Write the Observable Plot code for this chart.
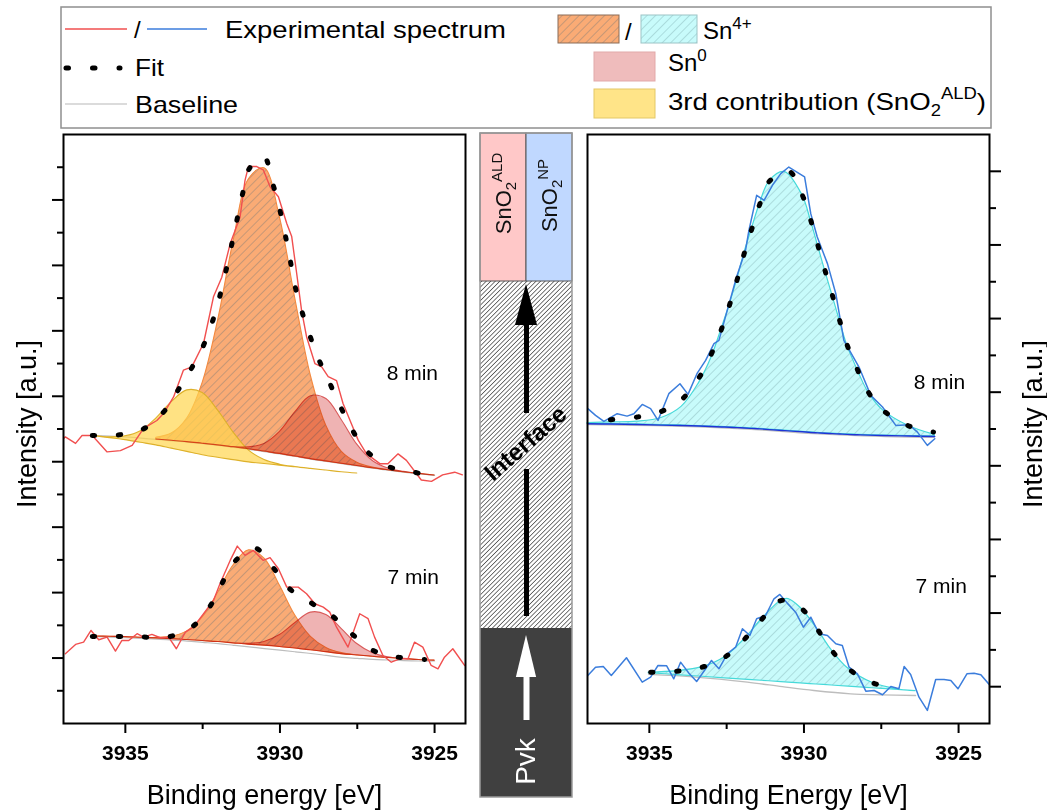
<!DOCTYPE html>
<html><head><meta charset="utf-8">
<script src="https://cdn.jsdelivr.net/npm/d3@7"></script>
<script src="https://cdn.jsdelivr.net/npm/@observablehq/plot@0.6"></script>
<style>
body{margin:0;background:#fff;}
#wrap{position:relative;width:1047px;height:812px;overflow:hidden;background:#fff;}
#wrap > svg{position:absolute;}
</style></head><body>
<svg width="0" height="0" style="position:absolute">
<defs>
<pattern id="hatchOrange" patternUnits="userSpaceOnUse" width="6" height="6" patternTransform="rotate(45)">
<rect width="6" height="6" fill="#faab75"/><line x1="0" y1="0" x2="0" y2="6" stroke="#9a8676" stroke-width="1.1"/>
</pattern>
<pattern id="hatchCyan" patternUnits="userSpaceOnUse" width="6" height="6" patternTransform="rotate(45)">
<rect width="6" height="6" fill="#c8fbfb"/><line x1="0" y1="0" x2="0" y2="6" stroke="#94c2c4" stroke-width="1.1"/>
</pattern>
<pattern id="hatchMid" patternUnits="userSpaceOnUse" width="3.2" height="3.2" patternTransform="rotate(45)">
<rect width="3.2" height="3.2" fill="#ffffff"/><line x1="0" y1="0" x2="0" y2="3.2" stroke="#2e2e2e" stroke-width="1.3"/>
</pattern>
</defs></svg>
<div id="wrap"></div>
<script>
const FONT = '"Liberation Sans", Arial, Helvetica, sans-serif';

// ---------- data ----------
const grid = [3936,3935.5,3935,3934.5,3934,3933.5,3933,3932.5,3932,3931.5,3931,3930.5,3930,3929.5,3929,3928.5,3928,3927.5,3927,3926.5,3926,3925.5,3925];

// left panel (SnO2 ALD), 8 min
const base8 = [4.40,4.39,4.38,4.36,4.34,4.32,4.30,4.275,4.25,4.22,4.19,4.155,4.12,4.08,4.04,4.005,3.97,3.935,3.90,3.87,3.84,3.815,3.79];
const sn4_8 = [0,0,0,0.005,0.027,0.11,0.36,0.93,1.91,3.15,4.13,4.33,3.61,2.40,1.27,0.54,0.18,0.05,0.01,0,0,0,0];
const sn0_8 = [0,0,0,0,0,0,0,0,0,0.005,0.029,0.117,0.336,0.678,0.96,0.953,0.664,0.325,0.111,0.027,0.005,0,0];
const ald8lo = [4.39,4.36,4.33,4.29,4.25,4.20,4.15,4.10,4.06,4.025,3.99,3.965,3.94,3.915,3.89,3.865,3.84,3.82,3.80,3.78,3.76,3.74,3.72];
const ald8 = [0.003,0.014,0.058,0.176,0.41,0.71,0.94,0.95,0.72,0.42,0.18,0.06,0.015,0.003,0,0,0,0,0,0,0,0,0];
const expL8 = [[3937.0,4.35],[3936.94,4.38],[3936.61,4.28],[3936.40,4.40],[3936.07,4.40],[3935.59,4.15],[3935.16,4.17],[3934.78,4.25],[3934.41,4.51],[3933.98,4.63],[3933.76,4.74],[3933.44,4.99],[3933.12,5.40],[3932.85,5.45],[3932.47,5.81],[3932.15,6.52],[3931.88,6.82],[3931.61,7.33],[3931.29,7.74],[3931.13,8.30],[3931.02,8.51],[3930.75,8.51],[3930.54,8.46],[3930.32,8.20],[3930.05,8.05],[3929.78,7.64],[3929.62,7.44],[3929.46,6.88],[3929.30,6.31],[3929.14,5.91],[3928.87,5.50],[3928.65,5.45],[3928.44,5.30],[3928.17,5.24],[3927.96,4.89],[3927.69,4.58],[3927.47,4.33],[3927.20,4.12],[3926.77,3.97],[3926.51,3.97],[3926.18,4.12],[3925.91,4.02],[3925.59,3.82],[3925.43,3.72],[3925.10,3.70],[3924.74,3.80],[3924.35,3.84],[3924.10,3.80]];
const fitL8 = [[3936.07,4.40],[3935.22,4.41],[3934.46,4.49],[3933.78,4.75],[3933.30,5.09],[3932.87,5.42],[3932.47,5.78],[3932.17,6.16],[3931.94,6.54],[3931.74,6.93],[3931.56,7.32],[3931.38,7.72],[3931.20,8.11],[3930.99,8.48],[3930.52,8.66],[3930.24,8.26],[3930.02,7.88],[3929.84,7.49],[3929.68,7.11],[3929.52,6.70],[3929.30,6.31],[3929.05,5.95],[3928.76,5.58],[3928.41,5.22],[3928.06,4.86],[3927.69,4.51],[3927.23,4.18],[3926.51,3.93],[3925.65,3.84],[3925.16,3.78]];

// left panel, 7 min
const base7 = [1.33,1.325,1.32,1.31,1.30,1.29,1.275,1.26,1.245,1.225,1.205,1.19,1.17,1.145,1.12,1.09,1.06,1.04,1.02,1.00,0.985,0.97,0.96];
const gray7 = [1.33,1.32,1.31,1.30,1.29,1.275,1.26,1.24,1.22,1.195,1.17,1.145,1.12,1.095,1.07,1.04,1.01,0.995,0.98,0.97,0.96,0.955,0.955];
const sn4_7 = [0,0,0,0.001,0.008,0.037,0.133,0.361,0.752,1.193,1.442,1.329,0.934,0.501,0.204,0.064,0.015,0.002,0,0,0,0,0];
const sn0_7 = [0,0,0,0,0,0,0,0,0,0.002,0.012,0.056,0.181,0.391,0.574,0.569,0.382,0.174,0.053,0.011,0.002,0,0];
const expL7 = [[3936.94,1.066],[3936.61,1.208],[3936.35,1.243],[3936.11,1.422],[3935.86,1.280],[3935.59,1.320],[3935.32,1.106],[3935.11,1.269],[3934.89,1.269],[3934.62,1.372],[3934.41,1.320],[3934.14,1.361],[3933.87,1.310],[3933.60,1.320],[3933.35,1.142],[3933.06,1.396],[3932.80,1.472],[3932.47,1.677],[3932.15,1.881],[3931.94,2.136],[3931.61,2.492],[3931.38,2.711],[3931.13,2.569],[3930.86,2.645],[3930.54,2.492],[3930.32,2.534],[3930.05,2.365],[3929.78,2.084],[3929.41,2.084],[3929.14,1.983],[3928.87,1.830],[3928.60,1.778],[3928.39,1.702],[3928.17,1.472],[3927.80,1.167],[3927.42,1.677],[3927.15,1.601],[3926.94,1.320],[3926.67,1.040],[3926.40,0.937],[3926.13,0.989],[3925.86,0.989],[3925.65,1.243],[3925.38,1.167],[3925.11,0.887],[3924.89,0.836],[3924.68,1.014],[3924.41,1.142],[3924.03,0.887]];
const fitL7 = [[3936.07,1.330],[3935.22,1.330],[3934.39,1.320],[3933.55,1.330],[3932.85,1.472],[3932.28,1.778],[3931.88,2.136],[3931.45,2.482],[3930.81,2.681],[3930.22,2.381],[3929.73,2.075],[3928.98,1.839],[3928.36,1.662],[3927.74,1.396],[3926.99,1.116],[3926.18,1.014],[3925.32,0.979]];

// right panel (SnO2 NP), 8 min
const expR8 = [[3936.99,4.276],[3936.74,4.185],[3936.47,4.103],[3936.04,4.208],[3935.72,4.175],[3935.50,4.208],[3935.23,4.334],[3934.96,4.276],[3934.72,4.117],[3934.37,4.480],[3934.01,4.615],[3933.75,4.470],[3933.45,4.760],[3933.18,4.932],[3932.91,5.159],[3932.75,5.204],[3932.48,5.611],[3932.18,6.064],[3931.89,6.427],[3931.78,6.698],[3931.53,7.174],[3931.29,7.106],[3931.02,7.310],[3930.75,7.469],[3930.49,7.558],[3929.98,7.423],[3929.78,6.925],[3929.57,6.607],[3929.24,6.246],[3928.97,5.838],[3928.71,5.204],[3928.22,4.841],[3927.84,4.457],[3927.46,4.298],[3927.03,4.049],[3926.60,4.058],[3926.33,3.958],[3926.01,3.777],[3925.77,3.868]];
const fitR8 = [[3936.26,4.126],[3935.39,4.162],[3934.61,4.239],[3933.96,4.398],[3933.40,4.692],[3932.99,5.023],[3932.67,5.353],[3932.40,5.693],[3932.16,6.028],[3931.94,6.372],[3931.69,6.712],[3931.43,7.052],[3931.11,7.368],[3930.49,7.500],[3930.05,7.174],[3929.78,6.834],[3929.55,6.495],[3929.32,6.155],[3929.08,5.815],[3928.84,5.466],[3928.60,5.136],[3928.27,4.806],[3927.92,4.501],[3927.44,4.253],[3926.63,4.045],[3925.81,3.958]];
const sn4R8 = [[3937.0,4.072,4.08],[3936.26,4.067,4.09],[3935.39,4.062,4.10],[3934.61,4.053,4.15],[3933.96,4.048,4.30],[3933.40,4.040,4.62],[3932.99,4.033,4.97],[3932.67,4.028,5.353],[3932.40,4.024,5.693],[3932.16,4.018,6.028],[3931.94,4.014,6.372],[3931.69,4.008,6.712],[3931.43,4.002,7.052],[3931.11,3.992,7.368],[3930.62,3.978,7.49],[3930.05,3.962,7.174],[3929.78,3.953,6.834],[3929.55,3.947,6.495],[3929.32,3.942,6.155],[3929.08,3.937,5.815],[3928.84,3.932,5.466],[3928.60,3.927,5.136],[3928.27,3.921,4.806],[3927.92,3.917,4.501],[3927.44,3.912,4.253],[3926.63,3.905,4.045],[3925.77,3.899,3.92]];
const grayR8 = [[3937,4.072],[3934.0,4.049],[3931.83,4.012],[3929.68,3.950],[3927.52,3.913],[3925.79,3.899]];

// right panel, 7 min
const expR7 = [[3936.99,0.652],[3936.74,0.765],[3936.49,0.774],[3936.23,0.652],[3935.74,0.893],[3935.23,0.561],[3934.96,0.629],[3934.72,0.788],[3934.44,0.784],[3934.21,0.607],[3933.99,0.833],[3933.72,0.683],[3933.47,0.571],[3932.99,0.856],[3932.75,0.743],[3932.48,0.947],[3932.21,1.037],[3931.99,1.287],[3931.75,1.196],[3931.53,1.423],[3931.24,1.467],[3930.97,1.694],[3930.78,1.753],[3930.54,1.635],[3930.27,1.512],[3930.02,1.308],[3929.78,1.444],[3929.51,1.219],[3929.24,1.196],[3928.97,1.083],[3928.76,1.060],[3928.54,0.765],[3928.27,0.675],[3928.00,0.439],[3927.73,0.448],[3927.46,0.390],[3927.19,0.503],[3926.93,0.471],[3926.76,0.774],[3926.55,0.666],[3926.28,0.357],[3926.01,0.177],[3925.74,0.598],[3925.47,0.598],[3925.25,0.584],[3925.02,0.471],[3924.73,0.675],[3924.50,0.683],[3924.28,0.662],[3924.01,0.530]];
const fitR7 = [[3934.96,0.697],[3934.10,0.711],[3933.29,0.765],[3932.56,0.901],[3931.94,1.137],[3931.37,1.413],[3930.73,1.671],[3930.11,1.572],[3929.59,1.295],[3929.10,0.992],[3928.56,0.743],[3927.79,0.553],[3926.95,0.462]];
const sn4R7 = [[3935.02,0.684,0.69],[3934.10,0.658,0.711],[3933.29,0.635,0.765],[3932.56,0.614,0.901],[3931.94,0.597,1.137],[3931.37,0.581,1.413],[3930.73,0.562,1.671],[3930.50,0.556,1.69],[3930.11,0.545,1.572],[3929.59,0.530,1.295],[3929.10,0.516,0.992],[3928.56,0.501,0.743],[3927.79,0.479,0.553],[3926.95,0.455,0.462],[3926.39,0.439,0.439]];
const grayR7 = [[3935.02,0.666],[3933.5,0.63],[3931.83,0.561],[3930.7,0.50],[3929.68,0.448],[3928.49,0.403],[3927.5,0.39],[3926.39,0.380]];

const xMajor = [3935, 3930, 3925];
const xMinor = [3932.5, 3927.5];
const yMajorL = [1,2,3,4,5,6,7,8], yMinorL = [0.5,1.5,2.5,3.5,4.5,5.5,6.5,7.5,8.5];
const yMajorR = [0.5,1.5,2.5,3.5,4.5,5.5,6.5,7.5], yMinorR = [1,2,3,4,5,6,7];
const timeL = [{t:"8 min", x:3926.55, y:5.245},{t:"7 min", x:3926.52, y:2.125}];
const timeR = [{t:"8 min", x:3926.45, y:4.538},{t:"7 min", x:3926.39, y:1.766}];

// schematic layers (depth units from bottom) and arrows
const layers = [
  {layer:"Pvk", x1:0, x2:2, y1:0, y2:169},
  {layer:"Interface", x1:0, x2:2, y1:169, y2:516},
  {layer:"SnO2ALD", x1:0, x2:1, y1:516, y2:664},
  {layer:"SnO2NP", x1:1, x2:2, y1:516, y2:664}
];
const blackShaft = [{y1:181, y2:328},{y1:384, y2:472}];
const blackHead = [{x:0.76, b:472, t:472},{x:1, b:472, t:513},{x:1.24, b:472, t:472}];
const whiteShaft = [{y1:77, y2:121}];
const whiteHead = [{x:0.78, b:120, t:120},{x:1, b:120, t:162},{x:1.22, b:120, t:120}];

// ---------- helpers ----------
const P = a => a.map(([x, y]) => ({x, y}));
const comp = (lo, h, from, to) => grid.map((x, i) => ({x, lo: lo[i], hi: lo[i] + (h ? h[i] : 0)})).filter(d => d.x <= from && d.x >= to);
const band = a => a.map(([x, lo, hi]) => ({x, lo, hi}));
const curve = "catmull-rom";
const RED = "#f14f4f", BLUE = "#3b7ddc", GRAYB = "#bdbdbd";
const fitStyle = {x:"x", y:"y", stroke:"black", strokeWidth:5, strokeDasharray:"2.5,23.5", strokeLinecap:"round", curve};
const styleBase = {fontFamily: FONT, background: "transparent", color: "black", overflow: "visible"};
const wrap = document.getElementById("wrap");

function axesMarks(anchorY, yMajor, yMinor, title) {
  return [
    Plot.frame({stroke:"black", strokeWidth:2}),
    Plot.axisX({ticks: xMajor, tickSize: 10, tickPadding: 12, tickFormat: d => String(d), fontWeight: "bold", fontSize: 21, strokeWidth: 2, label: null}),
    Plot.axisX({ticks: xMinor, tickSize: 6, tickFormat: () => "", strokeWidth: 2, label: null}),
    Plot.axisY({anchor: anchorY, ticks: yMajor, tickSize: 11, tickFormat: () => "", strokeWidth: 2, label: null}),
    Plot.axisY({anchor: anchorY, ticks: yMinor, tickSize: 6, tickFormat: () => "", strokeWidth: 2, label: null}),
    Plot.text([title], {frameAnchor: "bottom", textAnchor: "middle", lineAnchor: "bottom", dy: 80, fontSize: 27}),
    Plot.text(["Intensity [a.u.]"], {frameAnchor: anchorY, textAnchor: "middle", lineAnchor: "middle", rotate: -90, dx: anchorY === "left" ? -36 : 44, dy: -5, fontSize: 27})
  ];
}

// ---------- left panel ----------
const left = Plot.plot({
  width: 480, height: 682, marginLeft: 63, marginRight: 15, marginTop: 4, marginBottom: 89,
  x: {domain: [3937, 3924]}, y: {domain: [0, 9]},
  style: styleBase,
  marks: [
    Plot.line(comp(base8, null, 3936, 3925), {x:"x", y:"lo", stroke: GRAYB, strokeWidth: 1.2, curve}),
    Plot.line(comp(gray7, null, 3936, 3925), {x:"x", y:"lo", stroke: GRAYB, strokeWidth: 1.2, curve}),
    Plot.areaY(comp(base8, sn4_8, 3934, 3925), {x:"x", y1:"lo", y2:"hi", fill:"url(#hatchOrange)", stroke:"#f3893f", strokeWidth:1.1, curve}),
    Plot.areaY(comp(ald8lo, ald8, 3936, 3927.5), {x:"x", y1:"lo", y2:"hi", fill:"#ffd54e", fillOpacity:0.7, stroke:"#deb12a", strokeWidth:1.1, curve}),
    Plot.areaY(comp(base8, sn0_8, 3934, 3925), {x:"x", y1:"lo", y2:"hi", fill:"#efb3b3", mixBlendMode:"multiply", stroke:"#d95a5a", strokeWidth:1.1, curve}),
    Plot.areaY(comp(base7, sn4_7, 3936, 3925), {x:"x", y1:"lo", y2:"hi", fill:"url(#hatchOrange)", stroke:"#f3893f", strokeWidth:1.1, curve}),
    Plot.areaY(comp(base7, sn0_7, 3936, 3925), {x:"x", y1:"lo", y2:"hi", fill:"#efb3b3", mixBlendMode:"multiply", stroke:"#d95a5a", strokeWidth:1.1, curve}),
    Plot.line(P(expL8), {x:"x", y:"y", stroke: RED, strokeWidth: 1.4, clip: true}),
    Plot.line(P(expL7), {x:"x", y:"y", stroke: RED, strokeWidth: 1.4, clip: true}),
    Plot.line(P(fitL8), fitStyle),
    Plot.line(P(fitL7), fitStyle),
    Plot.text(timeL, {x:"x", y:"y", text:"t", textAnchor:"start", lineAnchor:"bottom", fontSize: 21}),
    ...axesMarks("left", yMajorL, yMinorL, "Binding energy [eV]")
  ]
});
left.style.left = "0px"; left.style.top = "130px";
wrap.append(left);

// ---------- right panel ----------
const right = Plot.plot({
  width: 475, height: 682, marginLeft: 15, marginRight: 58, marginTop: 4, marginBottom: 89,
  x: {domain: [3937, 3924]}, y: {domain: [0, 8]},
  style: styleBase,
  marks: [
    Plot.line(P(grayR8), {x:"x", y:"y", stroke: GRAYB, strokeWidth: 1.3, curve, dy: 1}),
    Plot.line(P(grayR7), {x:"x", y:"y", stroke: GRAYB, strokeWidth: 1.3, curve}),
    Plot.areaY(band(sn4R8), {x:"x", y1:"lo", y2:"hi", fill:"url(#hatchCyan)", stroke:"#46d9d9", strokeWidth:1.2, curve}),
    Plot.line(band(sn4R8), {x:"x", y:"lo", stroke:"#1f33d6", strokeWidth:1.4, curve}),
    Plot.areaY(band(sn4R7), {x:"x", y1:"lo", y2:"hi", fill:"url(#hatchCyan)", stroke:"#46d9d9", strokeWidth:1.2, curve}),
    Plot.line(P(expR8), {x:"x", y:"y", stroke: BLUE, strokeWidth: 1.5, clip: true}),
    Plot.line(P(expR7), {x:"x", y:"y", stroke: BLUE, strokeWidth: 1.5, clip: true}),
    Plot.line(P(fitR8), fitStyle),
    Plot.line(P(fitR7), fitStyle),
    Plot.text(timeR, {x:"x", y:"y", text:"t", textAnchor:"start", lineAnchor:"bottom", fontSize: 21}),
    ...axesMarks("right", yMajorR, yMinorR, "Binding Energy [eV]")
  ]
});
right.style.left = "572px"; right.style.top = "130px";
wrap.append(right);

// ---------- middle schematic ----------
const L = name => layers.filter(d => d.layer === name);
const mid = Plot.plot({
  width: 92, height: 664, margin: 0,
  x: {domain: [0, 2], axis: null}, y: {domain: [0, 664], axis: null},
  style: styleBase,
  marks: [
    Plot.rect(L("Pvk"), {x1:"x1", x2:"x2", y1:"y1", y2:"y2", fill:"#404040"}),
    Plot.rect(L("Interface"), {x1:"x1", x2:"x2", y1:"y1", y2:"y2", fill:"url(#hatchMid)"}),
    Plot.rect(L("SnO2ALD"), {x1:"x1", x2:"x2", y1:"y1", y2:"y2", fill:"#ffc8c8", stroke:"#555", strokeWidth:1}),
    Plot.rect(L("SnO2NP"), {x1:"x1", x2:"x2", y1:"y1", y2:"y2", fill:"#c0d8ff", stroke:"#555", strokeWidth:1}),
    Plot.rect(layers.slice(0, 1), {x1:0, x2:2, y1:"y1", y2:664, fill:"none", stroke:"#9a9a9a", strokeWidth:1.5}),
    Plot.ruleX(blackShaft, {x: 1, y1:"y1", y2:"y2", stroke:"black", strokeWidth:5}),
    Plot.areaY(blackHead, {x:"x", y1:"b", y2:"t", fill:"black"}),
    Plot.ruleX(whiteShaft, {x: 1, y1:"y1", y2:"y2", stroke:"white", strokeWidth:6}),
    Plot.areaY(whiteHead, {x:"x", y1:"b", y2:"t", fill:"white"}),
    Plot.text(["Interface"], {x: 0.98, y: 354, rotate: -41, fontWeight: "bold", fontSize: 24, fill: "black"}),
    Plot.text(["Pvk"], {x: 0.98, y: 36, rotate: -90, fontSize: 28, fill: "white"}),
    Plot.text(["SnO2ALD"], {x: 0.5, y: 604, rotate: -90, fontSize: 22, fill: "#111"}),
    Plot.text(["SnO2NP"], {x: 1.5, y: 602, rotate: -90, fontSize: 22, fill: "#111"})
  ]
});
d3.select(mid).selectAll("text").each(function() {
  const t = this.textContent;
  if (t === "SnO2ALD" || t === "SnO2NP") {
    this.innerHTML = `SnO<tspan font-size="15" dy="5">2</tspan><tspan font-size="15" dy="-14">${t.slice(4)}</tspan>`;
  }
});
mid.style.left = "480px"; mid.style.top = "133px";
wrap.append(mid);

// ---------- legend ----------
const leg = d3.create("svg").attr("width", 1047).attr("height", 130)
  .style("left", "0px").style("top", "0px").style("font-family", FONT).style("font-size", "24px");
leg.append("rect").attr("x", 61).attr("y", 7).attr("width", 930).attr("height", 121)
  .attr("fill", "white").attr("stroke", "#8f8f8f").attr("stroke-width", 1.5);
const hl = (x1, x2, y, stroke, w = 1.5, extra = {}) => {
  const l = leg.append("line").attr("x1", x1).attr("x2", x2).attr("y1", y).attr("y2", y).attr("stroke", stroke).attr("stroke-width", w);
  for (const k in extra) l.attr(k, extra[k]);
};
const tx = (x, y, html, len) => {
  const t = leg.append("text").attr("x", x).attr("y", y).attr("fill", "black").html(html);
  if (len) t.attr("textLength", len).attr("lengthAdjust", "spacingAndGlyphs");
  return t;
};
hl(65, 127, 29, RED);
tx(134, 38, "/");
hl(147, 207, 29, BLUE);
tx(225, 38, "Experimental spectrum", 281);
hl(66, 120, 68, "black", 5, {"stroke-dasharray": "2.5,24", "stroke-linecap": "round"});
tx(135, 76, "Fit", 29);
hl(65, 127, 104, "#cfcfcf", 1.3);
tx(135, 113, "Baseline", 103);
leg.append("rect").attr("x", 558).attr("y", 15).attr("width", 61).attr("height", 28).attr("fill", "url(#hatchOrange)").attr("stroke", "#8a6d58").attr("stroke-width", 1);
tx(625, 40, "/");
leg.append("rect").attr("x", 641).attr("y", 15).attr("width", 56).attr("height", 28).attr("fill", "url(#hatchCyan)").attr("stroke", "#9cc4c6").attr("stroke-width", 1);
tx(703, 39, 'Sn<tspan font-size="17" dy="-10">4+</tspan>');
leg.append("rect").attr("x", 594).attr("y", 52).attr("width", 61).attr("height", 29).attr("fill", "#efbcbc").attr("stroke", "#e2a9a9").attr("stroke-width", 1);
tx(668, 71, 'Sn<tspan font-size="17" dy="-10">0</tspan>');
leg.append("rect").attr("x", 594).attr("y", 89).attr("width", 61).attr("height", 29).attr("fill", "#ffe488").attr("stroke", "#e3c866").attr("stroke-width", 1);
tx(668, 110, '3rd contribution (SnO<tspan font-size="16" dy="6">2</tspan><tspan font-size="16" dy="-17">ALD</tspan><tspan dy="11">)</tspan>', 318);
wrap.append(leg.node());
</script>
</body></html>
